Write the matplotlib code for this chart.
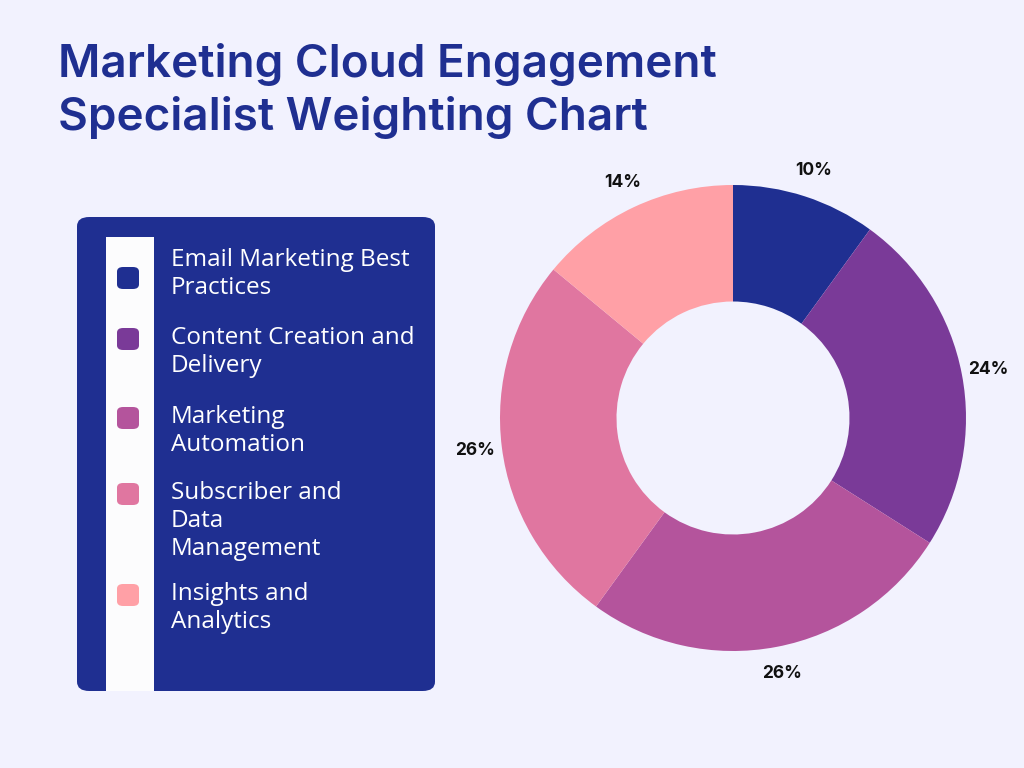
import matplotlib.pyplot as plt
from matplotlib.patches import FancyBboxPatch, Rectangle

categories = ["Email Marketing Best\nPractices", "Content Creation and\nDelivery",
              "Marketing\nAutomation", "Subscriber and\nData\nManagement",
              "Insights and\nAnalytics"]
weights = [10, 24, 26, 26, 14]
colors = ["#1f2f91", "#7a3a98", "#b4549c", "#e076a0", "#ffa0a6"]
bg = "#f2f2fe"
navy = "#1f2f91"

W, H = 1024, 768
fig = plt.figure(figsize=(10.24, 7.68), dpi=100)
fig.patch.set_facecolor(bg)


def fx(px):
    return px / W


def fy(py):
    return 1 - py / H


# title
fig.text(fx(58), fy(91), "Marketing Cloud Engagement\nSpecialist Weighting Chart",
         fontsize=33, fontweight="semibold", color=navy, family="Inter",
         va="center", ha="left", linespacing=1.32)

# donut
r = 233
ax = fig.add_axes([fx(733 - r), fy(418 + r), 2 * r / W, 2 * r / H])
ax.pie(weights, colors=colors, startangle=90, counterclock=False,
       autopct="%d%%", pctdistance=1.115,
       wedgeprops=dict(width=0.5, linewidth=0),
       textprops=dict(fontsize=12.5, fontweight="bold", color="#111111", family="Inter"))
ax.set_xlim(-1, 1)
ax.set_ylim(-1, 1)
ax.set_aspect("auto")
ax.axis("off")

# legend panel
panel = FancyBboxPatch((fx(77), fy(691)), fx(435) - fx(77), fy(217) - fy(691),
                       boxstyle="round,pad=0,rounding_size=0.012",
                       transform=fig.transFigure, facecolor=navy, edgecolor="none")
fig.patches.append(panel)
strip = Rectangle((fx(106), fy(691)), fx(154) - fx(106), fy(237) - fy(691),
                  transform=fig.transFigure, facecolor="#fcfcfd", edgecolor="none")
fig.patches.append(strip)

text_centers = [274, 352, 431, 521, 608]
square_centers = [278, 339, 418, 494, 595]
for lab, col, ty, sy in zip(categories, colors, text_centers, square_centers):
    sq = FancyBboxPatch((fx(117), fy(sy + 11)), fx(139) - fx(117), fy(sy - 11) - fy(sy + 11),
                        boxstyle="round,pad=0,rounding_size=0.006",
                        transform=fig.transFigure, facecolor=col, edgecolor="none")
    fig.patches.append(sq)
    fig.text(fx(171), fy(ty), lab, fontsize=17.5, color="white", family="Open Sans",
             va="center", ha="left", linespacing=1.2)

fig.savefig("out.png", dpi=100, facecolor=bg)
